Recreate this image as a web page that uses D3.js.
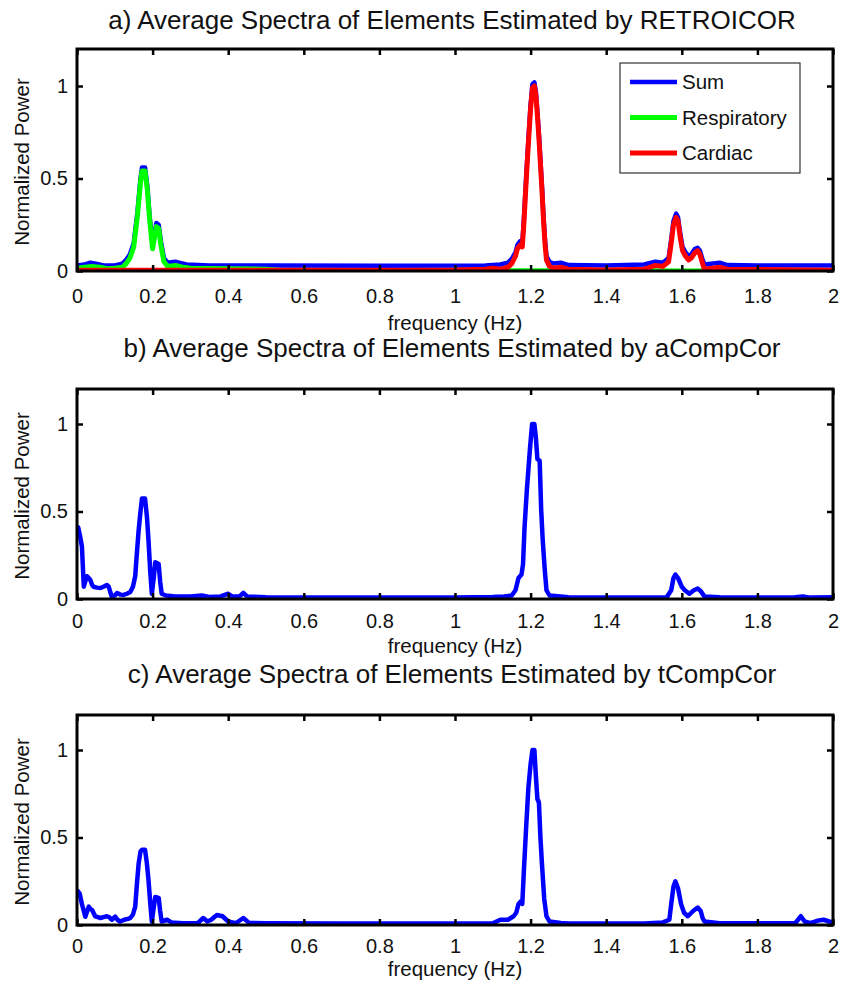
<!DOCTYPE html>
<html>
<head>
<meta charset="utf-8">
<script src="https://cdn.jsdelivr.net/npm/d3@7"></script>
<style>
  body { margin: 0; background: #fff; }
  text { font-family: "Liberation Sans", Arial, sans-serif; fill: #111; }
</style>
</head>
<body>
<div id="chart"></div>
<script>
// ---- data: [frequency (Hz), normalized power] ----
const xTicks = [0, 0.2, 0.4, 0.6, 0.8, 1, 1.2, 1.4, 1.6, 1.8, 2];
const yTicks = [0, 0.5, 1];
const legendLabels = ["Sum", "Respiratory", "Cardiac"];

// a) RETROICOR
const sumA = [[0,0.03],[0.02,0.035],[0.035,0.045],[0.05,0.04],[0.07,0.03],[0.1,0.03],[0.12,0.04],[0.13,0.06],
  [0.14,0.09],[0.15,0.15],[0.16,0.32],[0.168,0.5],[0.172,0.56],[0.18,0.56],[0.186,0.46],[0.192,0.3],[0.2,0.14],
  [0.205,0.2],[0.21,0.26],[0.216,0.25],[0.222,0.16],[0.23,0.07],[0.24,0.045],[0.26,0.05],[0.27,0.045],[0.29,0.035],
  [0.35,0.03],[0.5,0.03],[0.8,0.028],[1.08,0.03],[1.12,0.035],[1.14,0.045],[1.15,0.065],[1.16,0.1],[1.165,0.14],
  [1.172,0.16],[1.178,0.15],[1.182,0.27],[1.186,0.42],[1.19,0.57],[1.195,0.74],[1.2,0.9],[1.205,1.01],[1.21,1.02],
  [1.214,0.97],[1.218,0.86],[1.222,0.74],[1.226,0.6],[1.23,0.46],[1.234,0.3],[1.238,0.17],[1.242,0.08],[1.25,0.05],
  [1.26,0.04],[1.28,0.045],[1.3,0.032],[1.4,0.03],[1.5,0.035],[1.53,0.05],[1.55,0.045],[1.565,0.07],[1.572,0.17],
  [1.578,0.27],[1.585,0.31],[1.59,0.29],[1.596,0.2],[1.602,0.13],[1.61,0.1],[1.618,0.08],[1.625,0.09],[1.635,0.12],
  [1.642,0.125],[1.648,0.11],[1.655,0.06],[1.66,0.035],[1.7,0.045],[1.72,0.032],[1.8,0.03],[2,0.03]];
const respA = [[0,0.015],[0.02,0.02],[0.04,0.025],[0.06,0.02],[0.08,0.012],[0.1,0.015],[0.12,0.02],[0.13,0.04],
  [0.14,0.07],[0.15,0.13],[0.16,0.3],[0.168,0.48],[0.172,0.54],[0.18,0.54],[0.186,0.44],[0.192,0.28],[0.2,0.12],
  [0.205,0.18],[0.21,0.24],[0.216,0.23],[0.222,0.14],[0.23,0.05],[0.24,0.025],[0.26,0.03],[0.28,0.02],[0.3,0.015],
  [0.4,0.012],[0.5,0.01],[0.55,0.002],[2,0]];
const cardA = [[0,0.004],[0.5,0.004],[1.0,0.005],[1.08,0.01],[1.1,0.015],[1.12,0.01],[1.14,0.02],[1.15,0.04],
  [1.16,0.08],[1.165,0.12],[1.172,0.14],[1.178,0.13],[1.182,0.25],[1.186,0.4],[1.19,0.55],[1.195,0.72],[1.2,0.88],
  [1.205,0.99],[1.21,1.0],[1.214,0.95],[1.218,0.84],[1.222,0.72],[1.226,0.58],[1.23,0.44],[1.234,0.28],[1.238,0.15],
  [1.242,0.06],[1.25,0.025],[1.26,0.015],[1.28,0.02],[1.3,0.01],[1.4,0.005],[1.5,0.01],[1.53,0.03],[1.55,0.025],
  [1.565,0.05],[1.572,0.15],[1.578,0.25],[1.585,0.29],[1.59,0.27],[1.596,0.18],[1.602,0.11],[1.61,0.08],[1.618,0.06],
  [1.625,0.07],[1.635,0.1],[1.642,0.11],[1.648,0.09],[1.655,0.04],[1.66,0.01],[1.7,0.02],[1.72,0.01],[2,0.004]];

// b) aCompCor
const sumB = [[0,0.41],[0.003,0.41],[0.008,0.36],[0.013,0.3],[0.018,0.07],[0.022,0.1],[0.026,0.13],[0.031,0.12],
  [0.035,0.11],[0.04,0.08],[0.044,0.07],[0.053,0.065],[0.062,0.063],[0.07,0.07],[0.079,0.08],[0.084,0.07],[0.088,0.04],
  [0.092,0.013],[0.1,0.02],[0.106,0.034],[0.115,0.025],[0.123,0.023],[0.132,0.03],[0.141,0.04],[0.148,0.07],
  [0.154,0.13],[0.158,0.25],[0.163,0.39],[0.168,0.5],[0.172,0.575],[0.18,0.575],[0.185,0.47],[0.189,0.34],
  [0.194,0.15],[0.198,0.03],[0.203,0.12],[0.207,0.21],[0.216,0.2],[0.22,0.1],[0.224,0.03],[0.235,0.02],[0.26,0.015],
  [0.3,0.015],[0.33,0.02],[0.35,0.012],[0.38,0.015],[0.4,0.03],[0.41,0.015],[0.43,0.015],[0.44,0.035],[0.45,0.015],
  [0.5,0.01],[0.6,0.008],[0.8,0.008],[1.0,0.008],[1.1,0.012],[1.13,0.015],[1.15,0.02],[1.16,0.05],[1.168,0.12],
  [1.176,0.14],[1.18,0.2],[1.184,0.41],[1.19,0.62],[1.198,0.85],[1.204,1.0],[1.21,1.0],[1.214,0.92],[1.218,0.8],
  [1.224,0.79],[1.228,0.51],[1.232,0.34],[1.237,0.18],[1.242,0.05],[1.25,0.02],[1.28,0.015],[1.3,0.01],[1.5,0.008],
  [1.56,0.01],[1.572,0.05],[1.578,0.12],[1.583,0.14],[1.59,0.12],[1.6,0.07],[1.608,0.05],[1.62,0.03],[1.632,0.05],
  [1.642,0.06],[1.65,0.045],[1.66,0.015],[1.7,0.01],[1.8,0.008],[1.9,0.01],[1.92,0.015],[1.94,0.008],[2,0.01]];

// c) tCompCor
const sumC = [[0,0.2],[0.007,0.18],[0.013,0.12],[0.022,0.047],[0.027,0.08],[0.031,0.105],[0.036,0.09],[0.04,0.086],
  [0.048,0.05],[0.055,0.045],[0.062,0.04],[0.07,0.045],[0.079,0.05],[0.085,0.045],[0.092,0.03],[0.101,0.048],
  [0.107,0.03],[0.114,0.02],[0.125,0.03],[0.135,0.035],[0.141,0.04],[0.148,0.06],[0.154,0.105],[0.158,0.22],
  [0.163,0.35],[0.168,0.42],[0.172,0.43],[0.18,0.43],[0.185,0.35],[0.189,0.26],[0.194,0.12],[0.198,0.02],[0.203,0.1],
  [0.207,0.16],[0.216,0.155],[0.22,0.08],[0.224,0.02],[0.238,0.03],[0.25,0.015],[0.28,0.01],[0.32,0.012],[0.334,0.04],
  [0.345,0.02],[0.355,0.03],[0.37,0.057],[0.385,0.05],[0.4,0.02],[0.42,0.01],[0.44,0.04],[0.455,0.012],[0.5,0.01],
  [0.7,0.008],[0.9,0.008],[1.0,0.008],[1.1,0.01],[1.12,0.03],[1.14,0.03],[1.155,0.05],[1.162,0.07],[1.168,0.12],
  [1.174,0.135],[1.178,0.12],[1.182,0.3],[1.188,0.55],[1.194,0.78],[1.2,0.92],[1.205,1.0],[1.21,1.0],[1.214,0.85],
  [1.218,0.72],[1.222,0.7],[1.226,0.5],[1.23,0.35],[1.236,0.15],[1.242,0.05],[1.25,0.02],[1.28,0.012],[1.3,0.008],
  [1.5,0.008],[1.55,0.015],[1.567,0.03],[1.572,0.12],[1.578,0.22],[1.583,0.25],[1.59,0.21],[1.598,0.12],[1.606,0.07],
  [1.616,0.05],[1.63,0.08],[1.642,0.1],[1.65,0.08],[1.655,0.04],[1.66,0.02],[1.7,0.01],[1.9,0.01],[1.915,0.05],
  [1.925,0.02],[1.94,0.01],[1.96,0.025],[1.975,0.03],[1.99,0.02],[2,0.015]];

const panels = [
  {title: "a) Average Spectra of Elements Estimated by RETROICOR", top: 49, bottom: 271,
   titleY: 29, tickY: 303, labelY: 330,
   series: [{data: sumA, color: "#0000ff", w: 4.5}, {data: respA, color: "#00ff00", w: 5}, {data: cardA, color: "#ff0000", w: 5}],
   legend: true},
  {title: "b) Average Spectra of Elements Estimated by aCompCor", top: 389, bottom: 599,
   titleY: 357, tickY: 628, labelY: 653,
   series: [{data: sumB, color: "#0000ff", w: 4.5}]},
  {title: "c) Average Spectra of Elements Estimated by tCompCor", top: 715, bottom: 925,
   titleY: 683, tickY: 953, labelY: 976,
   series: [{data: sumC, color: "#0000ff", w: 4.5}]}
];

const W = 842, H = 985;
const left = 77, right = 833;

const svg = d3.select("#chart")
  .append("svg")
    .attr("width", W)
    .attr("height", H);

panels.forEach(p => {
  const x = d3.scaleLinear().domain([0, 2]).range([left, right]);
  const y = d3.scaleLinear().domain([0, 1.2]).range([p.bottom, p.top]);
  const g = svg.append("g");

  // clip so thick lines stay in the box
  const clipId = "clip" + p.top;
  g.append("clipPath").attr("id", clipId)
    .append("rect")
      .attr("x", left).attr("y", p.top)
      .attr("width", right - left).attr("height", p.bottom - p.top);

  const line = d3.line()
    .x(d => x(d[0]))
    .y(d => y(d[1]));

  g.append("g").attr("clip-path", "url(#" + clipId + ")")
    .selectAll("path")
    .data(p.series)
    .join("path")
      .attr("d", d => line(d.data))
      .attr("fill", "none")
      .attr("stroke", d => d.color)
      .attr("stroke-width", d => d.w)
      .attr("stroke-linejoin", "round");

  // inward ticks on all four sides (matlab box)
  const tickLen = 6;
  const axStyle = sel => {
    sel.select(".domain").remove();
    sel.selectAll(".tick line").attr("stroke", "#000").attr("stroke-width", 2.5);
    sel.selectAll(".tick text").style("font-size", "20px").attr("fill", "#111");
  };
  const xb = g.append("g")
    .attr("transform", "translate(0," + p.bottom + ")")
    .call(d3.axisBottom(x).tickValues(xTicks).tickFormat(d3.format("")).tickSize(-tickLen))
    .call(axStyle);
  xb.selectAll(".tick text").attr("dy", null).attr("y", p.tickY - p.bottom);
  g.append("g")
    .attr("transform", "translate(0," + p.top + ")")
    .call(d3.axisTop(x).tickValues(xTicks).tickSize(-tickLen).tickFormat(""))
    .call(axStyle);
  g.append("g")
    .attr("transform", "translate(" + left + ",0)")
    .call(d3.axisLeft(y).tickValues(yTicks).tickFormat(d3.format("")).tickSize(-tickLen).tickPadding(9))
    .call(axStyle);
  g.append("g")
    .attr("transform", "translate(" + right + ",0)")
    .call(d3.axisRight(y).tickValues(yTicks).tickSize(-tickLen).tickFormat(""))
    .call(axStyle);

  g.append("rect")
    .attr("x", left).attr("y", p.top)
    .attr("width", right - left).attr("height", p.bottom - p.top)
    .attr("fill", "none")
    .attr("stroke", "#000")
    .attr("stroke-width", 3);

  g.append("text")
    .attr("x", (left + right) / 2 - 3)
    .attr("y", p.titleY)
    .attr("text-anchor", "middle")
    .style("font-size", "26px")
    .text(p.title);

  g.append("text")
    .attr("x", (left + right) / 2)
    .attr("y", p.labelY)
    .attr("text-anchor", "middle")
    .style("font-size", "20.5px")
    .text("frequency (Hz)");

  g.append("text")
    .attr("transform", "translate(29," + ((p.top + p.bottom) / 2 + 2) + ") rotate(-90)")
    .attr("text-anchor", "middle")
    .style("font-size", "20.5px")
    .text("Normalized Power");

  if (p.legend) {
    const lg = g.append("g").attr("transform", "translate(620,63)");
    lg.append("rect")
      .attr("width", 180).attr("height", 110)
      .attr("fill", "#fff").attr("stroke", "#333").attr("stroke-width", 1.2);
    const ly = d3.scalePoint().domain(legendLabels).range([19, 90]);
    legendLabels.forEach((lab, i) => {
      lg.append("line")
        .attr("x1", 10).attr("x2", 57)
        .attr("y1", ly(lab)).attr("y2", ly(lab))
        .attr("stroke", p.series[i].color)
        .attr("stroke-width", p.series[i].w);
      lg.append("text")
        .attr("x", 62).attr("y", ly(lab) + 7)
        .style("font-size", "20.5px")
        .text(lab);
    });
  }
});
</script>
</body>
</html>
